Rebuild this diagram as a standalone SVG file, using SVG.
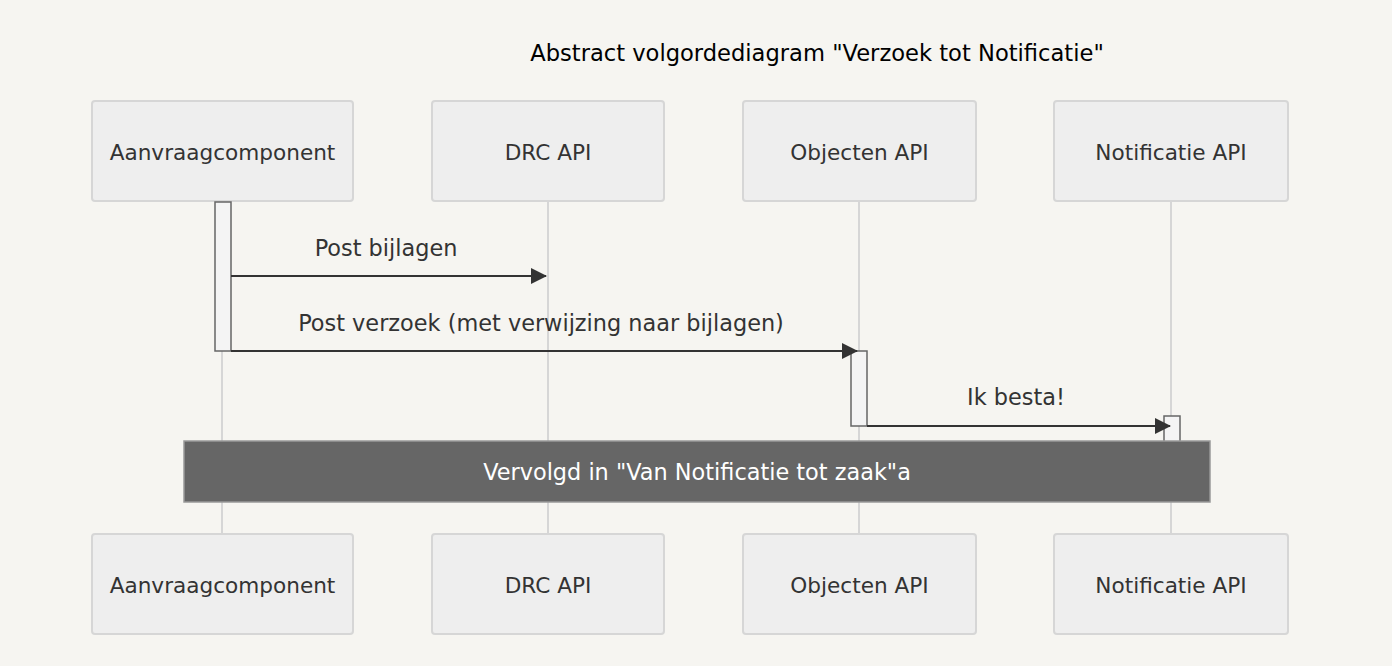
<svg xmlns="http://www.w3.org/2000/svg" width="1392" height="666" viewBox="0 0 1392 666">
<defs>
<style>
.bg{fill:#f6f5f1}
.actor{fill:#eeeeee;stroke:#d6d6d6;stroke-width:2}
.atext{font-family:"DejaVu Sans",sans-serif;font-size:21.6px;fill:#333;text-anchor:middle;dominant-baseline:central}
.life{stroke:#d6d6d6;stroke-width:2}
.act{fill:#f4f4f4;stroke:#666;stroke-width:1.5}
.msg{stroke:#333;stroke-width:2;fill:none}
.mtext{font-family:"DejaVu Sans",sans-serif;font-size:22.4px;fill:#333;text-anchor:middle}
.title{font-family:"DejaVu Sans",sans-serif;font-size:22.6px;fill:#000;text-anchor:middle}
.note{fill:#666;stroke:#999;stroke-width:1.5}
.ntext{font-family:"DejaVu Sans",sans-serif;font-size:22.4px;fill:#fff;text-anchor:middle;dominant-baseline:central}
</style>
<marker id="arrow" viewBox="0 0 16 16" refX="15" refY="8" markerWidth="16" markerHeight="16" markerUnits="userSpaceOnUse" orient="auto">
<path d="M0,0 L16,8 L0,16 z" fill="#333"/>
</marker>
</defs>
<rect class="bg" x="0" y="0" width="1392" height="666"/>
<text class="title" x="817" y="61">Abstract volgordediagram "Verzoek tot Notificatie"</text>
<g id="lifelines">
<line class="life" x1="222" y1="201" x2="222" y2="534"/>
<line class="life" x1="548" y1="201" x2="548" y2="534"/>
<line class="life" x1="859" y1="201" x2="859" y2="534"/>
<line class="life" x1="1171" y1="201" x2="1171" y2="534"/>
</g>
<g id="aanvraag">
<rect class="actor" x="92" y="101" width="261" height="100" rx="3"/>
<text class="atext" x="222.5" y="152">Aanvraagcomponent</text>
<rect class="actor" x="92" y="534" width="261" height="100" rx="3"/>
<text class="atext" x="222.5" y="585">Aanvraagcomponent</text>
</g>
<g id="drc">
<rect class="actor" x="432" y="101" width="232" height="100" rx="3"/>
<text class="atext" x="548" y="152">DRC API</text>
<rect class="actor" x="432" y="534" width="232" height="100" rx="3"/>
<text class="atext" x="548" y="585">DRC API</text>
</g>
<g id="objecten">
<rect class="actor" x="743" y="101" width="233" height="100" rx="3"/>
<text class="atext" x="859.5" y="152">Objecten API</text>
<rect class="actor" x="743" y="534" width="233" height="100" rx="3"/>
<text class="atext" x="859.5" y="585">Objecten API</text>
</g>
<g id="notificatie">
<rect class="actor" x="1054" y="101" width="234" height="100" rx="3"/>
<text class="atext" x="1171" y="152">Notificatie API</text>
<rect class="actor" x="1054" y="534" width="234" height="100" rx="3"/>
<text class="atext" x="1171" y="585">Notificatie API</text>
</g>
<g id="activations">
<rect class="act" x="215" y="202" width="16" height="149"/>
<rect class="act" x="851" y="351" width="16" height="75"/>
<rect class="act" x="1164" y="416" width="16" height="30"/>
</g>
<g id="connectors">
<line class="msg" x1="231" y1="276" x2="546" y2="276" marker-end="url(#arrow)"/>
<text class="mtext" x="386" y="256">Post bijlagen</text>
<line class="msg" x1="231" y1="351" x2="857" y2="351" marker-end="url(#arrow)"/>
<text class="mtext" x="541" y="331">Post verzoek (met verwijzing naar bijlagen)</text>
<line class="msg" x1="867" y1="426" x2="1170" y2="426" marker-end="url(#arrow)"/>
<text class="mtext" x="1016" y="405">Ik besta!</text>
</g>
<g id="note">
<rect class="note" x="184" y="441" width="1026" height="61"/>
<text class="ntext" x="697" y="472">Vervolgd in "Van Notificatie tot zaak"a</text>
</g>
</svg>
